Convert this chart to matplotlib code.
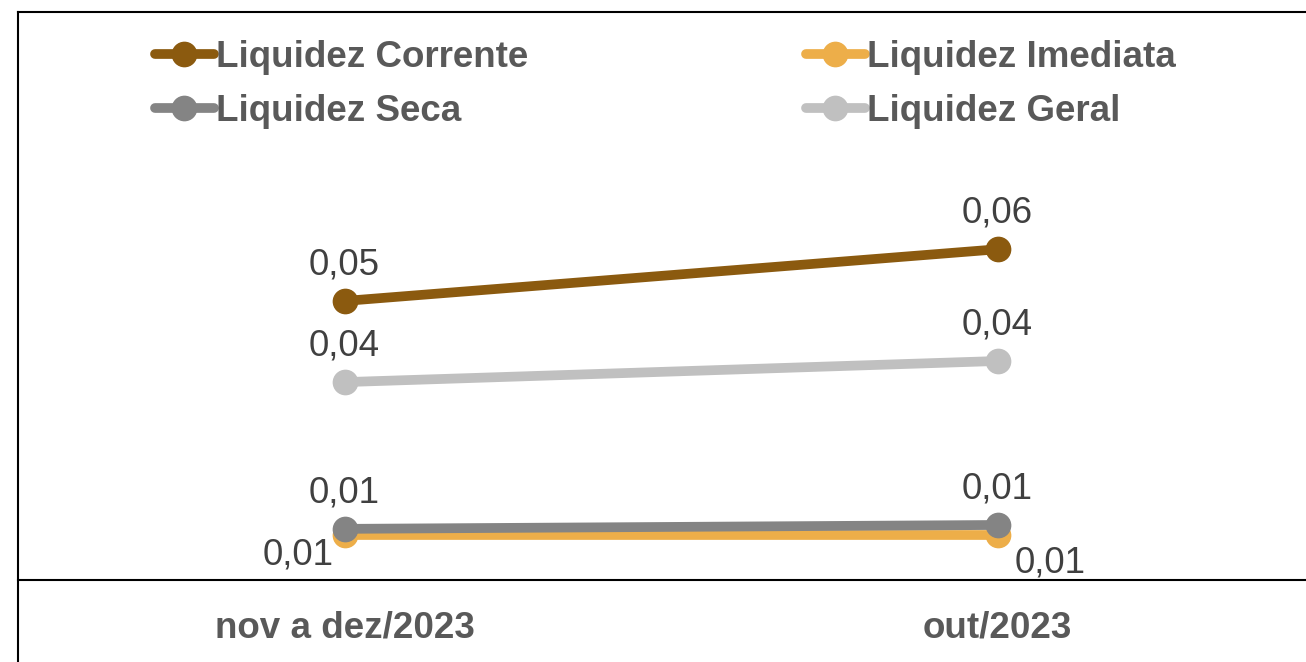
import matplotlib
matplotlib.use("Agg")
import matplotlib.pyplot as plt
from matplotlib.lines import Line2D

categories = ["nov a dez/2023", "out/2023"]
corrente = [0.0502, 0.0595]
imediata = [0.0081, 0.0081]
seca = [0.0092, 0.0099]
geral = [0.0356, 0.0394]

series = [
    ("Liquidez Corrente", corrente, "#8B5A0F"),
    ("Liquidez Imediata", imediata, "#EDAE49"),
    ("Liquidez Seca", seca, "#848484"),
    ("Liquidez Geral", geral, "#C0C0C0"),
]

plt.rcParams['font.family'] = ['Liberation Sans', 'DejaVu Sans']
W, H = 1306, 662
fig = plt.figure(figsize=(W / 100, H / 100), dpi=100)
ax = fig.add_axes([18 / W, 1 - 580 / H, 1306 / W, (580 - 152) / H])
ax.set_xlim(0, 2)
ax.set_ylim(0, 0.077)

x = [0.5, 1.5]
handles = {}
for name, vals, col in series:
    ln, = ax.plot(x, vals, color=col, lw=7, marker='o', ms=17.5,
                  solid_capstyle='round', label=name, clip_on=False)
    handles[name] = ln

def fmt(v):
    return f"{v:.2f}".replace('.', ',')

px = 0.72
lab_col = "#404040"
for name, vals, col in series:
    for i, v in enumerate(vals):
        if name == "Liquidez Imediata":
            off = (-46 * px, -20 * px) if i == 0 else (53 * px, -28 * px)
        else:
            off = (0, 36 * px)
        ax.annotate(fmt(v), (x[i], v), xytext=off, textcoords='offset points',
                    ha='center', va='center', fontsize=26.5, color=lab_col)

ax.set_xticks(x)
ax.set_xticklabels(categories, fontsize=26.5, fontweight='bold', color='#595959')
ax.tick_params(axis='x', length=0, pad=22)
ax.set_yticks([])
for s in ['top', 'right', 'left']:
    ax.spines[s].set_visible(False)
ax.spines['bottom'].set_linewidth(1.5)
ax.spines['bottom'].set_color('black')

order = ["Liquidez Corrente", "Liquidez Seca", "Liquidez Imediata", "Liquidez Geral"]
leg = fig.legend([handles[n] for n in order], order, ncol=2, loc='upper left',
                 bbox_to_anchor=(155 / W, 1 - 40 / H), frameon=False,
                 borderaxespad=0, borderpad=0, handlelength=1.6, handletextpad=0.05,
                 columnspacing=7.55, labelspacing=0.52,
                 prop={'size': 26.5, 'weight': 'bold'})
for t in leg.get_texts():
    t.set_color('#595959')

# outer frame (left and top)
fig.add_artist(Line2D([18 / W, 18 / W], [0, 1 - 12 / H], color='black', lw=1.5,
                      transform=fig.transFigure))
fig.add_artist(Line2D([18 / W, 1], [1 - 12 / H, 1 - 12 / H], color='black', lw=1.5,
                      transform=fig.transFigure))

fig.savefig("out.png", dpi=100)
